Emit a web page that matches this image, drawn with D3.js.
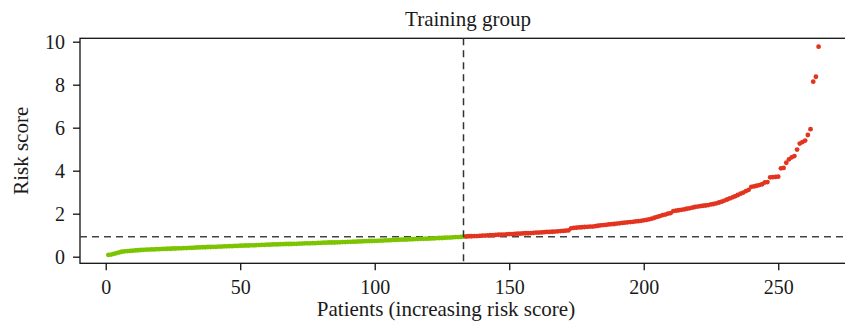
<!DOCTYPE html>
<html>
<head>
<meta charset="utf-8">
<script src="https://cdn.jsdelivr.net/npm/d3@7"></script>
<style>
  html, body { margin: 0; padding: 0; background: #fff; }
  svg { display: block; }
  text { font-family: "Liberation Serif", "DejaVu Serif", serif; fill: #1a1a1a; }
</style>
</head>
<body>
<svg id="chart" width="845" height="332"></svg>
<script>
// ---- data (sorted risk scores) ----
const lowRisk = [
  0.08, 0.10, 0.13, 0.17, 0.20, 0.23, 0.25, 0.26, 0.27, 0.28,
  0.29, 0.30, 0.31, 0.32, 0.33, 0.33, 0.34, 0.34, 0.35, 0.35,
  0.36, 0.36, 0.37, 0.37, 0.38, 0.38, 0.39, 0.39, 0.40, 0.40,
  0.41, 0.41, 0.42, 0.43, 0.43, 0.44, 0.44, 0.45, 0.45, 0.46,
  0.46, 0.47, 0.47, 0.48, 0.48, 0.49, 0.49, 0.50, 0.50, 0.51,
  0.51, 0.52, 0.52, 0.53, 0.53, 0.54, 0.54, 0.55, 0.55, 0.56,
  0.56, 0.57, 0.57, 0.57, 0.58, 0.58, 0.59, 0.59, 0.59, 0.60,
  0.60, 0.61, 0.61, 0.62, 0.62, 0.62, 0.63, 0.63, 0.64, 0.64,
  0.65, 0.65, 0.66, 0.66, 0.66, 0.67, 0.67, 0.68, 0.68, 0.69,
  0.69, 0.70, 0.70, 0.71, 0.71, 0.72, 0.72, 0.73, 0.73, 0.74,
  0.74, 0.75, 0.75, 0.76, 0.76, 0.77, 0.78, 0.78, 0.79, 0.79,
  0.80, 0.80, 0.81, 0.81, 0.82, 0.82, 0.83, 0.83, 0.84, 0.84,
  0.85, 0.85, 0.86, 0.87, 0.87, 0.88, 0.89, 0.89, 0.90, 0.91,
  0.91, 0.92, 0.93
];
const highRisk = [
  0.94, 0.95, 0.95, 0.96, 0.96, 0.97, 0.98,
  0.98, 0.99, 1.00, 1.00, 1.01, 1.02, 1.03, 1.03, 1.04, 1.05,
  1.05, 1.06, 1.07, 1.07, 1.08, 1.09, 1.09, 1.10, 1.11, 1.12,
  1.12, 1.13, 1.14, 1.15, 1.15, 1.16, 1.17, 1.18, 1.19, 1.20,
  1.21, 1.22,
  1.32, 1.34, 1.35, 1.36, 1.37, 1.38, 1.39, 1.40,
  1.40, 1.42, 1.44, 1.46, 1.47, 1.48, 1.50, 1.51, 1.52, 1.54,
  1.55, 1.57, 1.58, 1.60, 1.61, 1.62, 1.64, 1.65, 1.67, 1.69,
  1.71, 1.74, 1.77, 1.81, 1.85, 1.89, 1.93, 1.96, 2.00, 2.03,
  2.12, 2.14, 2.16, 2.18, 2.20, 2.23, 2.25, 2.28, 2.31, 2.33,
  2.35, 2.37, 2.38, 2.40, 2.43, 2.45, 2.48, 2.52, 2.56, 2.61,
  2.66, 2.71, 2.76, 2.81, 2.87, 2.93, 2.98, 3.05, 3.11, 3.25,
  3.27, 3.30, 3.33, 3.37, 3.45, 3.47, 3.69, 3.70, 3.71, 3.72,
  4.11, 4.13, 4.37, 4.53, 4.62, 4.68, 4.98, 5.26, 5.33, 5.40,
  5.66, 5.93, 8.14, 8.37, 9.77
];
const cutoffValue = 0.93;
const xTicks = [0, 50, 100, 150, 200, 250];
const yTicks = [0, 2, 4, 6, 8, 10];
const titleText = "Training group";
const xLabel = "Patients (increasing risk score)";
const yLabel = "Risk score";
const colors = { low: "#7cc400", high: "#e3341f" };

// ---- build points ----
const points = [];
lowRisk.forEach(v => points.push({ i: points.length + 1, v, g: "low" }));
highRisk.forEach(v => points.push({ i: points.length + 1, v, g: "high" }));
const nLow = lowRisk.length;
const n = points.length;

// ---- scales (R-style 4% padding) ----
const vMin = d3.min(points, d => d.v), vMax = d3.max(points, d => d.v);
const xPad = (n - 1) * 0.04, yPad = (vMax - vMin) * 0.04;
const x = d3.scaleLinear().domain([1 - xPad, n + xPad]).range([80, 847]);
const y = d3.scaleLinear().domain([vMin - yPad, vMax + yPad]).range([263.3, 38.3]);

const svg = d3.select("#chart");

// box
svg.append("rect")
  .attr("x", x.range()[0]).attr("y", y.range()[1])
  .attr("width", x.range()[1] - x.range()[0])
  .attr("height", y.range()[0] - y.range()[1])
  .attr("fill", "none").attr("stroke", "#111").attr("stroke-width", 1.3);

// axes
const xAxis = svg.append("g")
  .attr("transform", `translate(0,${y.range()[0]})`)
  .call(d3.axisBottom(x).tickValues(xTicks).tickSize(7).tickPadding(9).tickFormat(d3.format("d")));
const yAxis = svg.append("g")
  .attr("transform", `translate(${x.range()[0]},0)`)
  .call(d3.axisLeft(y).tickValues(yTicks).tickSize(7).tickPadding(8).tickFormat(d3.format("d")));
[xAxis, yAxis].forEach(g => {
  g.select(".domain").remove();
  g.selectAll(".tick line").attr("stroke", "#111").attr("stroke-width", 1.3);
  g.selectAll(".tick text").attr("font-size", 20).attr("fill", "#1a1a1a")
    .style("font-family", "'Liberation Serif', serif");
});
xAxis.selectAll(".tick text").attr("dy", "0.72em");

// dashed reference lines
svg.append("line")
  .attr("x1", x.range()[0]).attr("x2", x.range()[1])
  .attr("y1", y(cutoffValue)).attr("y2", y(cutoffValue))
  .attr("stroke", "#444").attr("stroke-width", 1.5).attr("stroke-dasharray", "7,5");

// points
svg.append("g").selectAll("circle").data(points).join("circle")
  .attr("cx", d => x(d.i)).attr("cy", d => y(d.v)).attr("r", 2.4)
  .attr("fill", d => colors[d.g]);

svg.append("line")
  .attr("x1", x(nLow)).attr("x2", x(nLow))
  .attr("y1", y.range()[1]).attr("y2", y.range()[0])
  .attr("stroke", "#333").attr("stroke-width", 1.5).attr("stroke-dasharray", "7,5");

// texts
svg.append("text").attr("x", 468).attr("y", 26)
  .attr("text-anchor", "middle").attr("font-size", 21).text(titleText);
svg.append("text").attr("x", 446).attr("y", 316)
  .attr("text-anchor", "middle").attr("font-size", 21).text(xLabel);
svg.append("text")
  .attr("transform", `translate(28,${(y.range()[0] + y.range()[1]) / 2}) rotate(-90)`)
  .attr("text-anchor", "middle").attr("font-size", 21).text(yLabel);
</script>
</body>
</html>
